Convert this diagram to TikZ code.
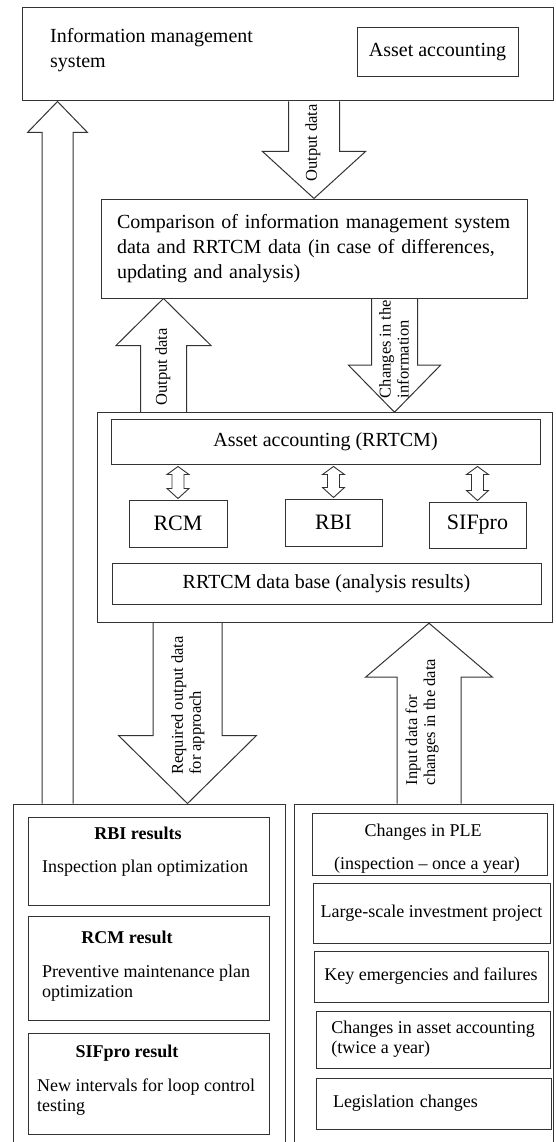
\documentclass[tikz,border=0pt]{standalone}
\usepackage{fontspec}
\setmainfont{Liberation Serif}
\usetikzlibrary{calc}
\tikzset{
  box/.style={draw=black!80, line width=1pt, rectangle, inner sep=0pt},
  arrowline/.style={draw=black!80, line width=1pt, line join=miter},
  ftw/.style={font=\fontsize{20}{25}\selectfont},
  fbig/.style={font=\fontsize{22}{26}\selectfont},
  fsm/.style={font=\fontsize{18}{20}\selectfont},
  fsmb/.style={font=\fontsize{18}{20}\selectfont\bfseries},
  lab/.style={font=\fontsize{16.5}{18}\selectfont, inner sep=0pt, rotate=90, align=left},
  txt/.style={inner sep=0pt}
}
% block arrow: #1 start, #2 tip, #3 shaft half width, #4 head half width, #5 head length
\newcommand\blockarr[5]{%
  \draw[arrowline] let \p1=(#1), \p2=(#2), \n1={2*(\y1>\y2)-1} in
    (\x2-#3pt,\y1) -- (\x2-#3pt,\y2+\n1*#5pt) -- (\x2-#4pt,\y2+\n1*#5pt) -- (\x2,\y2)
    -- (\x2+#4pt,\y2+\n1*#5pt) -- (\x2+#3pt,\y2+\n1*#5pt) -- (\x2+#3pt,\y1);
}
% small double arrow between #1 (upper) and #2 (lower)
\newcommand\dblarr[2]{%
  \draw[arrowline, line width=0.9pt] let \p1=(#1), \p2=(#2) in
    (\x1,\y1-2pt) -- (\x1+11pt,\y1-10pt) -- (\x1+6pt,\y1-10pt) -- (\x1+6pt,\y2+11pt)
    -- (\x1+11pt,\y2+11pt) -- (\x1,\y2+1pt) -- (\x1-11pt,\y2+11pt) -- (\x1-6pt,\y2+11pt)
    -- (\x1-6pt,\y1-10pt) -- (\x1-11pt,\y1-10pt) -- cycle;
}
\begin{document}
\begin{tikzpicture}[x=1pt,y=-1pt]
\clip (0,0) rectangle (555,1142);
\fill[white] (0,0) rectangle (555,1142);

% top
\node[box, minimum width=531pt, minimum height=93pt] (top) at (287.5,54.5) {};
\node[txt, ftw, anchor=west, align=left] (toptext) at (50,50.5) {Information management\\system};
\node[box, ftw, minimum width=161pt, minimum height=49pt] (acc) at (437.5,52.5) {Asset accounting};

% comparison
\node[box, ftw, minimum width=426pt, minimum height=99pt, text width=394pt, align=left] (cmp) at (314,248.5)
  {Comparison of information management system\\data and RRTCM data (in case of differences,\\updating and analysis)};

% middle block
\node[box, minimum width=455pt, minimum height=210pt] (mid) at (324.5,517.7) {};
\node[box, ftw, minimum width=429pt, minimum height=45pt] (aa2) at (325.5,441.5) {Asset accounting (RRTCM)};
\node[box, fbig, minimum width=98pt, minimum height=47pt] (rcm) at (178,523.5) {RCM};
\node[box, fbig, minimum width=97pt, minimum height=47pt] (rbi) at (333.5,522.5) {RBI};
\node[box, fbig, minimum width=97pt, minimum height=46pt] (sif) at (477.5,525) {SIFpro};
\node[box, ftw, minimum width=429pt, minimum height=41pt] (db) at (326.5,583.5) {RRTCM data base (analysis results)};

% bottom outer boxes
\node[box, minimum width=272pt, minimum height=392pt] (lb) at (149,1000) {};
\node[box, minimum width=259pt, minimum height=392pt] (rb) at (423.5,1000) {};

% left inner boxes
\node[box, minimum width=241pt, minimum height=88pt] (rbibox) at (148.5,861) {};
\node[txt, fsmb] (rbit) at (138,833) {RBI results};
\node[txt, fsm] (rbix) at (145,868) {Inspection plan optimization};

\node[box, minimum width=241pt, minimum height=104pt] (rcmbox) at (148.5,968) {};
\node[txt, fsmb] (rcmt) at (127,937) {RCM result};
\node[txt, fsm, anchor=west, align=left] (rcmx) at (42,983) {Preventive maintenance plan\\optimization};

\node[box, minimum width=241pt, minimum height=101pt] (sifbox) at (148.5,1083.5) {};
\node[txt, fsmb] (sift) at (127,1053) {SIFpro result};
\node[txt, fsm, anchor=west, align=left] (sifx) at (37,1097) {New intervals for loop control\\testing};

% right inner boxes
\node[box, minimum width=235pt, minimum height=62pt] (ple) at (429.5,844) {};
\node[txt, fsm] (plea) at (423,832) {Changes in PLE};
\node[txt, fsm] (pleb) at (427,865) {(inspection – once a year)};
\node[box, fsm, minimum width=237pt, minimum height=60pt] (lsi) at (431.5,913) {Large-scale investment project};
\node[box, fsm, minimum width=234pt, minimum height=51pt] (kef) at (431,976.5) {Key emergencies and failures};
\node[box, fsm, minimum width=234pt, minimum height=57pt, align=left] (caa) at (433,1039.5) {Changes in asset accounting\\(twice a year)};
\node[box, fsm, minimum width=235pt, minimum height=51pt, text width=201pt, align=left] (leg) at (433.5,1103.5) {Legislation changes};

% block arrows
\blockarr{cmp.north |- top.south}{cmp.north}{25.5}{51.5}{47}
\coordinate (t2) at ([xshift=63pt]cmp.south west);
\blockarr{t2 |- mid.north}{t2}{23}{47.5}{47}
\coordinate (s3) at ([xshift=-133pt]cmp.south east);
\blockarr{s3}{s3 |- mid.north}{23}{46}{47}
\coordinate (s4) at ([xshift=-137pt]mid.south);
\blockarr{s4}{s4 |- lb.north}{34.5}{69}{68}
\coordinate (t5) at ([xshift=104.5pt]mid.south);
\blockarr{t5 |- rb.north}{t5}{32}{63.5}{54}
\coordinate (t6) at ([xshift=36pt]top.south west);
\blockarr{t6 |- lb.north}{t6}{15.5}{30}{31}

% double arrows
\dblarr{rcm.north |- aa2.south}{rcm.north}
\dblarr{rbi.north |- aa2.south}{rbi.north}
\dblarr{sif.north |- aa2.south}{sif.north}

% arrow labels
\node[lab] (l1) at (313,143) {Output data};
\node[lab] (l2) at (163,367) {Output data};
\node[lab] (l3) at (394,349) {Changes in the\\information};
\node[lab] (l4) at (188,705.5) {Required output data\\for approach};
\node[lab] (l5) at (422,722) {Input data for\\changes in the data};
\end{tikzpicture}
\end{document}
